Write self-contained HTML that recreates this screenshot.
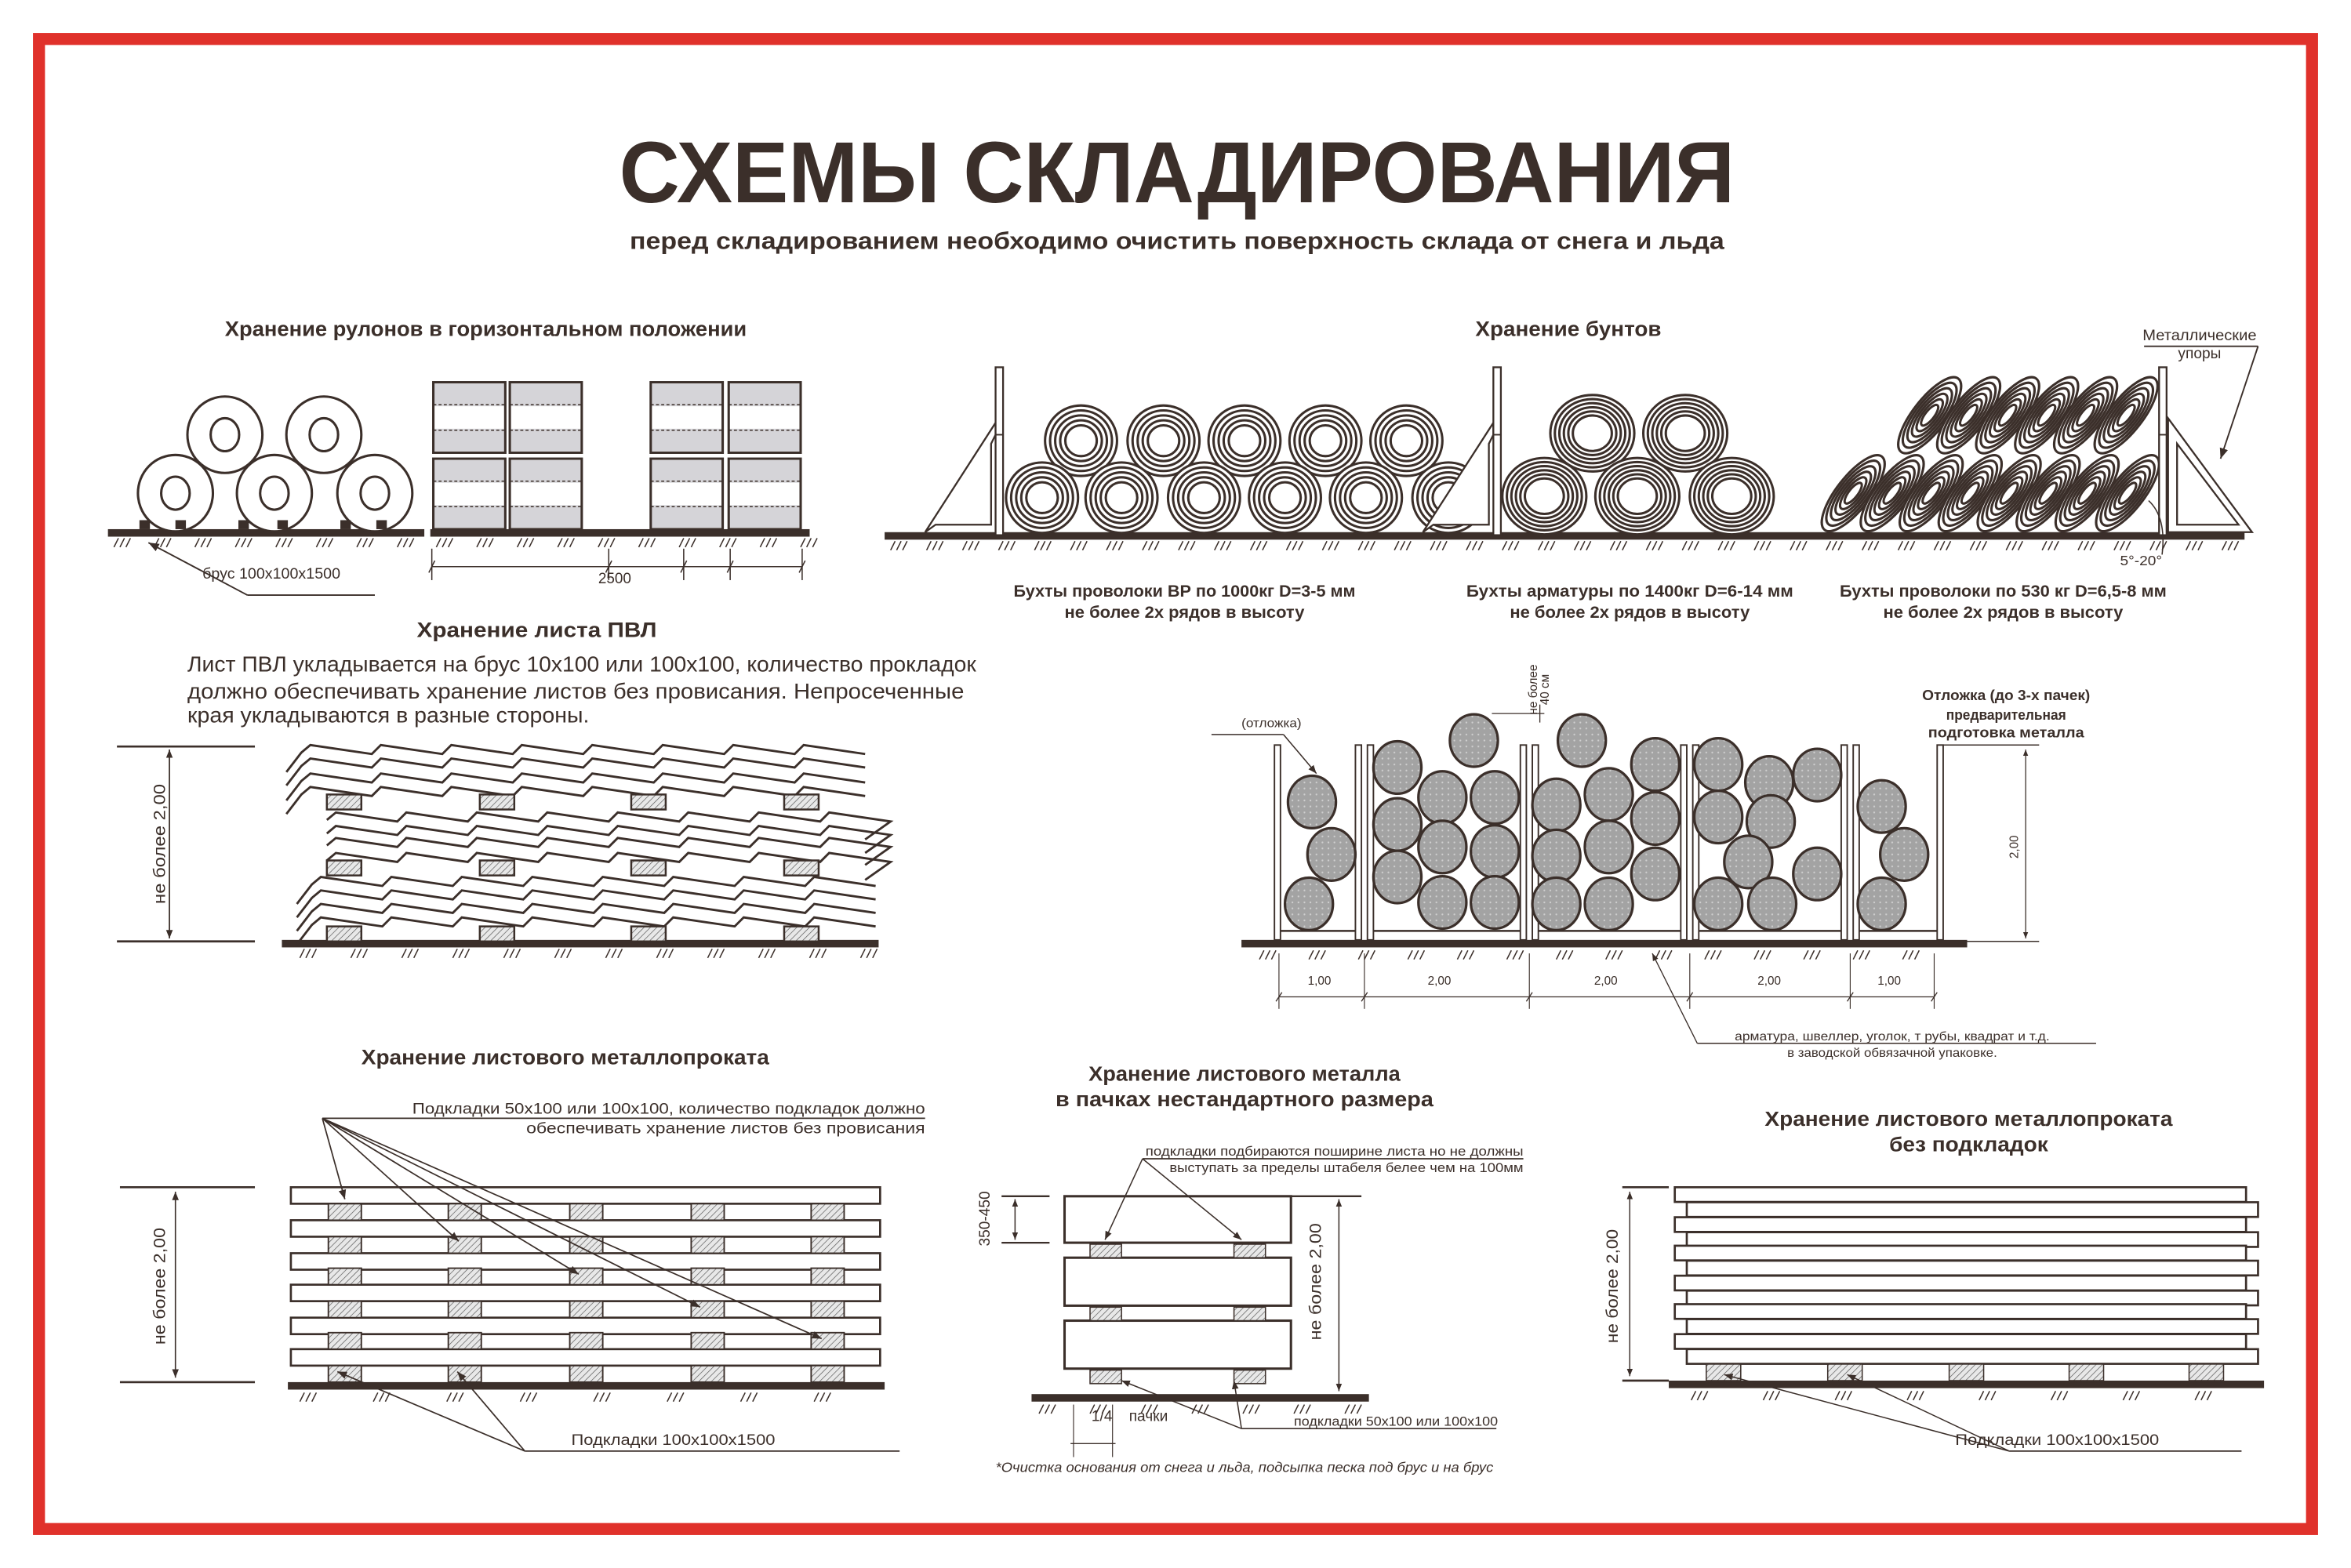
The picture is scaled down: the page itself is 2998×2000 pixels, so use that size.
<!DOCTYPE html>
<html><head><meta charset="utf-8">
<style>
html,body{margin:0;padding:0;background:#fff;}
svg{display:block;}
text{font-family:"Liberation Sans Narrow","Liberation Sans","DejaVu Sans",sans-serif;fill:#3b2f2a;}
.b{font-weight:bold;}
</style></head>
<body>
<svg id="s" width="2998" height="2000" viewBox="0 0 1568 1046" preserveAspectRatio="none" xmlns="http://www.w3.org/2000/svg">
<defs>
<pattern id="h" width="3" height="3" patternUnits="userSpaceOnUse" patternTransform="rotate(45)">
<rect width="3" height="3" fill="#e8e8e8"/><line x1="0" y1="0" x2="0" y2="3" stroke="#555" stroke-width="0.7"/></pattern>
<pattern id="g" width="4" height="4" patternUnits="userSpaceOnUse">
<rect width="4" height="4" fill="#a3a3a3"/><circle cx="2" cy="2" r="0.6" fill="#cfcfcf"/></pattern>
<marker id="ar" viewBox="0 0 10 10" refX="10" refY="5" markerWidth="7" markerHeight="7" orient="auto-start-reverse"><path d="M0,1 L10,5 L0,9 z" fill="#3b2f2a"/></marker>
</defs>
<rect x="0" y="0" width="1568" height="1046" fill="#fff"/>
<rect x="26" y="26" width="1516" height="994" fill="none" stroke="#e0312b" stroke-width="8"/>

<text x="785" y="135" class="b" font-size="58" text-anchor="middle" textLength="744" lengthAdjust="spacingAndGlyphs">СХЕМЫ СКЛАДИРОВАНИЯ</text>
<text x="785" y="166" class="b" font-size="16" text-anchor="middle" textLength="730" lengthAdjust="spacingAndGlyphs">перед складированием необходимо очистить поверхность склада от снега и льда</text>

<text x="324" y="224" class="b" font-size="14" text-anchor="middle" textLength="348" lengthAdjust="spacingAndGlyphs">Хранение рулонов в горизонтальном положении</text>
<text x="1046" y="224" class="b" font-size="14" text-anchor="middle" textLength="124" lengthAdjust="spacingAndGlyphs">Хранение бунтов</text>

<g id="draw" stroke="#3b2f2a" fill="none"></g>

<!-- rolls section text -->
<text x="135" y="386" font-size="10" textLength="92" lengthAdjust="spacingAndGlyphs">брус 100х100х1500</text>
<text x="399" y="389" font-size="10" textLength="22" lengthAdjust="spacingAndGlyphs">2500</text>

<text x="790" y="398" class="b" font-size="11" text-anchor="middle" textLength="228" lengthAdjust="spacingAndGlyphs">Бухты проволоки ВР по 1000кг D=3-5 мм</text>
<text x="790" y="412" class="b" font-size="11" text-anchor="middle" textLength="160" lengthAdjust="spacingAndGlyphs">не более 2х рядов в высоту</text>
<text x="1087" y="398" class="b" font-size="11" text-anchor="middle" textLength="218" lengthAdjust="spacingAndGlyphs">Бухты арматуры по 1400кг D=6-14 мм</text>
<text x="1087" y="412" class="b" font-size="11" text-anchor="middle" textLength="160" lengthAdjust="spacingAndGlyphs">не более 2х рядов в высоту</text>
<text x="1336" y="398" class="b" font-size="11" text-anchor="middle" textLength="218" lengthAdjust="spacingAndGlyphs">Бухты проволоки по 530 кг D=6,5-8 мм</text>
<text x="1336" y="412" class="b" font-size="11" text-anchor="middle" textLength="160" lengthAdjust="spacingAndGlyphs">не более 2х рядов в высоту</text>
<text x="1467" y="227" font-size="10" text-anchor="middle" textLength="76" lengthAdjust="spacingAndGlyphs">Металлические</text>
<text x="1467" y="239" font-size="10" text-anchor="middle">упоры</text>
<text x="1428" y="377" font-size="9" text-anchor="middle" textLength="28" lengthAdjust="spacingAndGlyphs">5°-20°</text>

<!-- PVL -->
<text x="358" y="425" class="b" font-size="14" text-anchor="middle" textLength="160" lengthAdjust="spacingAndGlyphs">Хранение листа ПВЛ</text>
<text x="125" y="448" font-size="14.5" textLength="526" lengthAdjust="spacingAndGlyphs">Лист ПВЛ укладывается на брус 10х100 или 100х100, количество прокладок</text>
<text x="125" y="466" font-size="14.5" textLength="518" lengthAdjust="spacingAndGlyphs">должно обеспечивать хранение листов без провисания. Непросеченные</text>
<text x="125" y="482" font-size="14.5" textLength="268" lengthAdjust="spacingAndGlyphs">края укладываются в разные стороны.</text>
<text transform="translate(110,563) rotate(-90)" font-size="11" text-anchor="middle" textLength="80" lengthAdjust="spacingAndGlyphs">не более 2,00</text>

<!-- pipes -->
<text x="828" y="485" font-size="8" textLength="40" lengthAdjust="spacingAndGlyphs">(отложка)</text>
<text transform="translate(1025,460) rotate(-90)" font-size="8" text-anchor="middle">не более</text>
<text transform="translate(1033,460) rotate(-90)" font-size="8" text-anchor="middle">40 см</text>
<text x="1338" y="467" class="b" font-size="9.5" text-anchor="middle" textLength="112" lengthAdjust="spacingAndGlyphs">Отложка (до 3-х пачек)</text>
<text x="1338" y="480" class="b" font-size="9.5" text-anchor="middle" textLength="80" lengthAdjust="spacingAndGlyphs">предварительная</text>
<text x="1338" y="492" class="b" font-size="9.5" text-anchor="middle" textLength="104" lengthAdjust="spacingAndGlyphs">подготовка металла</text>
<text transform="translate(1346,565) rotate(-90)" font-size="8" text-anchor="middle">2,00</text>
<text x="880" y="657" font-size="8" text-anchor="middle">1,00</text>
<text x="960" y="657" font-size="8" text-anchor="middle">2,00</text>
<text x="1071" y="657" font-size="8" text-anchor="middle">2,00</text>
<text x="1180" y="657" font-size="8" text-anchor="middle">2,00</text>
<text x="1260" y="657" font-size="8" text-anchor="middle">1,00</text>
<text x="1262" y="694" font-size="8" text-anchor="middle" textLength="210" lengthAdjust="spacingAndGlyphs">арматура, швеллер, уголок, т рубы, квадрат и т.д.</text>
<text x="1262" y="705" font-size="8" text-anchor="middle" textLength="140" lengthAdjust="spacingAndGlyphs">в заводской обвязачной упаковке.</text>

<!-- sheet metal -->
<text x="377" y="710" class="b" font-size="14" text-anchor="middle" textLength="272" lengthAdjust="spacingAndGlyphs">Хранение листового металлопроката</text>
<text x="617" y="743" font-size="10" text-anchor="end" textLength="342" lengthAdjust="spacingAndGlyphs">Подкладки 50х100 или 100х100, количество подкладок должно</text>
<text x="617" y="756" font-size="10" text-anchor="end" textLength="266" lengthAdjust="spacingAndGlyphs">обеспечивать хранение листов без провисания</text>
<text transform="translate(110,858) rotate(-90)" font-size="11" text-anchor="middle" textLength="78" lengthAdjust="spacingAndGlyphs">не более 2,00</text>
<text x="381" y="964" font-size="10" textLength="136" lengthAdjust="spacingAndGlyphs">Подкладки 100х100х1500</text>

<text x="830" y="721" class="b" font-size="13.5" text-anchor="middle" textLength="208" lengthAdjust="spacingAndGlyphs">Хранение листового металла</text>
<text x="830" y="738" class="b" font-size="13.5" text-anchor="middle" textLength="252" lengthAdjust="spacingAndGlyphs">в пачках нестандартного размера</text>
<text x="1016" y="771" font-size="8.5" text-anchor="end" textLength="252" lengthAdjust="spacingAndGlyphs">подкладки подбираются поширине листа но не должны</text>
<text x="1016" y="782" font-size="8.5" text-anchor="end" textLength="236" lengthAdjust="spacingAndGlyphs">выступать за пределы штабеля белее чем на 100мм</text>
<text transform="translate(660,813) rotate(-90)" font-size="10" text-anchor="middle">350-450</text>
<text transform="translate(881,855) rotate(-90)" font-size="11" text-anchor="middle" textLength="78" lengthAdjust="spacingAndGlyphs">не более 2,00</text>
<text x="728" y="948" font-size="10">1/4</text>
<text x="753" y="948" font-size="10">пачки</text>
<text x="863" y="951" font-size="8.5" textLength="136" lengthAdjust="spacingAndGlyphs">подкладки 50х100 или 100х100</text>
<text x="830" y="982" font-size="9" font-style="italic" text-anchor="middle" textLength="332" lengthAdjust="spacingAndGlyphs">*Очистка основания от снега и льда, подсыпка песка под брус и на брус</text>

<text x="1313" y="751" class="b" font-size="13.5" text-anchor="middle" textLength="272" lengthAdjust="spacingAndGlyphs">Хранение листового металлопроката</text>
<text x="1313" y="768" class="b" font-size="13.5" text-anchor="middle" textLength="106" lengthAdjust="spacingAndGlyphs">без подкладок</text>
<text transform="translate(1079,858) rotate(-90)" font-size="11" text-anchor="middle" textLength="76" lengthAdjust="spacingAndGlyphs">не более 2,00</text>
<text x="1304" y="964" font-size="10" textLength="136" lengthAdjust="spacingAndGlyphs">Подкладки 100х100х1500</text>
</svg>
<script>
(function(){
var C="#3b2f2a",G=document.getElementById("draw"),NS="http://www.w3.org/2000/svg",o="";
function L(a,b,c,d,w,m){o+='<line x1="'+a+'" y1="'+b+'" x2="'+c+'" y2="'+d+'" stroke-width="'+(w||0.8)+'"'+(m?' marker-end="url(#ar)"':'')+'/>';}
function R(x,y,w,h,f,sw){o+='<rect x="'+x+'" y="'+y+'" width="'+w+'" height="'+h+'" fill="'+(f||"none")+'" stroke-width="'+(sw==null?1:sw)+'"/>';}
function bar(x1,x2,y){o+='<rect x="'+x1+'" y="'+y+'" width="'+(x2-x1)+'" height="5" fill="'+C+'" stroke="none"/>';}
function hatch(x1,x2,y,step){for(var x=x1;x<=x2;x+=step){for(var k=0;k<3;k++){L(x+k*4,y+6,x+k*4+3,y);}}}
// ---- rolls
bar(72,283,353);hatch(76,280,359,27);
[[117,329],[183,329],[250,329],[150,290],[216,290]].forEach(function(p){
o+='<ellipse cx="'+p[0]+'" cy="'+p[1]+'" rx="25" ry="25.5" fill="#fff" stroke-width="1.6"/>';
o+='<ellipse cx="'+p[0]+'" cy="'+p[1]+'" rx="9.5" ry="11" fill="none" stroke-width="1.6"/>';});
[96,120,162,188,230,254].forEach(function(x){R(x-3,347,7,6,C,0);});
L(165,397,250,397,1);L(165,397,99,362,1,1);
// boxes
bar(287,540,353);hatch(291,535,359,27);
[289,340,434,486].forEach(function(x){[255,306].forEach(function(y){
R(x,y+1,48,15,"#d5d4d8",0);R(x,y+31,48,15,"#d5d4d8",0);R(x,y,48,47,"none",1.6);
o+='<line x1="'+x+'" y1="'+(y+15)+'" x2="'+(x+48)+'" y2="'+(y+15)+'" stroke-width="0.8" stroke-dasharray="2,1.5"/>';
o+='<line x1="'+x+'" y1="'+(y+32)+'" x2="'+(x+48)+'" y2="'+(y+32)+'" stroke-width="0.8" stroke-dasharray="2,1.5"/>';});});
L(288,378,535,378,0.8);[288,406,456,487,535].forEach(function(x){L(x,366,x,387,0.8);L(x-2,382,x+2,374,0.8);});
// ---- coils
bar(590,1497,355);hatch(594,1495,361,24);
function coil(cx,cy,rx,ry,n,hole,rot){var s='';for(var i=0;i<n;i++){var f=i/(n-1);var a=rx-(rx-hole)*f,b=ry-(ry-hole*ry/rx)*f;
s+='<ellipse cx="'+cx+'" cy="'+cy+'" rx="'+a.toFixed(2)+'" ry="'+b.toFixed(2)+'" fill="'+(i==0?"#fff":"none")+'" stroke-width="1.6"'+(rot?' transform="rotate('+rot+' '+cx+' '+cy+')"':'')+'/>';}o+=s;}
[721,776,830,884,938].forEach(function(x){coil(x,294,24,23.5,5,10.5);});
[695,748,803,857,911,966].forEach(function(x){coil(x,332,24,23.5,5,10.5);});
[1062,1124].forEach(function(x){coil(x,289,28,25.5,6,13);});
[1030,1092,1155].forEach(function(x){coil(x,331,28,25.5,6,13);});
[1287,1313,1339,1365,1391,1418].forEach(function(x){coil(x,277,11,31,6,3,38);});
[1236,1262,1288,1314,1340,1366,1392,1419].forEach(function(x){coil(x,329,11,31,6,3,38);});
function post(x,top){R(x,top,5,112,"#fff",1.2);L(x,290,x+5,290,1);}
function triL(px){o+='<path d="M'+(px-47)+',355 L'+px+',282 L'+px+',290 L'+(px-3)+',296 L'+(px-3)+',350 L'+(px-40)+',350 Z" fill="#fff" stroke-width="1.2"/>';}
triL(664);post(664,245);triL(996);post(996,245);
o+='<path d="M1446,279 L1502,355 L1446,355 Z" fill="#fff" stroke-width="1.2"/><path d="M1452,296 L1493,350 L1452,350 Z" fill="none" stroke-width="1.2"/>';
post(1440,245);
L(1430,231,1506,231,1);L(1506,231,1481,306,1,1);
o+='<path d="M1433,334 Q1445,345 1442,370" stroke-width="0.8" fill="none"/>';
// ---- PVL
L(78,498,170,498,1.4);L(78,628,170,628,1.4);L(113,500,113,626,0.8,1);L(113,626,113,500,0.8,1);
bar(188,586,627);hatch(200,586,633,34);
function zig(y,x1,x2,tail){var p='M'+x1+','+(y+5);for(var x=x1;x<x2-6;x+=47){p+=' L'+(x+6)+','+(y)+' L'+(x+47)+','+(y+6);}
if(tail<0)p='M'+(x1-10)+','+(y+18)+' L'+x1+','+(y+5)+p.slice(p.indexOf(' '));
if(tail>0)p+=' L'+(x2+12)+','+(y+18);
o+='<path d="'+p+'" stroke-width="1.5" fill="none"/>';}
[497,506,516,525].forEach(function(y){zig(y,201,565,-1);});
[542,551,559,569].forEach(function(y){zig(y,218,565,1);});
[585,594,603,612].forEach(function(y){zig(y,208,565,-1);});
[218,320,421,523].forEach(function(x){[530,574,618].forEach(function(y){R(x,y,23,10,"url(#h)",1.3);});});
// ---- pipes
bar(828,1312,627);hatch(840,1290,634,33);
[[850,908],[912,1018],[1022,1125],[1129,1232],[1236,1296]].forEach(function(c,i){
R(c[0],497,4,130,"#fff",1);R(c[1]-4,497,4,130,"#fff",1);L(c[0]+4,621,c[1]-4,621,1.3);});
var P=[[875,535],[888,570],[873,603],[932,512],[962,532],[997,532],[932,550],[962,565],[997,568],[932,585],[962,602],[997,602],[983,494],
[1038,537],[1073,530],[1104,510],[1038,571],[1073,565],[1104,546],[1038,603],[1073,603],[1104,583],[1055,494],
[1146,510],[1180,522],[1212,517],[1146,545],[1181,548],[1166,575],[1212,583],[1146,603],[1182,603],
[1255,538],[1270,570],[1255,603]];
P.forEach(function(p){o+='<ellipse cx="'+p[0]+'" cy="'+p[1]+'" rx="16" ry="17.5" fill="url(#g)" stroke-width="1.7"/>';});
L(995,476,1030,476,0.7);L(1027,470,1027,482,0.7);
L(808,490,856,490,0.8);L(856,490,878,516,0.8,1);
L(1296,497,1360,497,0.8);L(1312,628,1360,628,0.8);L(1351,500,1351,626,0.6,1);L(1351,626,1351,500,0.6,1);
L(853,665,1290,665,0.7);[853,910,1020,1127,1234,1290].forEach(function(x){L(x,636,x,673,0.6);L(x-2,668,x+2,662,0.7);});
L(1132,696,1398,696,0.8);L(1132,696,1102,636,0.7,1);
// ---- sheet metal with pads
L(80,792,170,792,1.4);L(80,922,170,922,1.4);L(117,795,117,919,0.8,1);L(117,919,117,795,0.8,1);
bar(192,590,922);hatch(200,585,929,49);
[792,814,836,857,879,900].forEach(function(y){R(194,y,393,11,"#fff",1.4);});
[219,299,380,461,541].forEach(function(x){[803,825,846,868,889,911].forEach(function(y){R(x,y,22,y==911?11:11,"url(#h)",1);});});
L(215,746,617,746,0.9);
[[230,800],[306,828],[386,850],[467,872],[548,893]].forEach(function(p){L(215,746,p[0],p[1],0.9,1);});
L(350,968,600,968,0.9);L(350,968,225,915,0.9,1);L(350,968,305,915,0.9,1);
// ---- bundles
bar(688,913,930);hatch(693,900,937,34);
[[798,829],[839,871],[881,913]].forEach(function(r){R(710,r[0],151,r[1]-r[0],"#fff",1.6);});
[727,823].forEach(function(x){[829,871,913].forEach(function(y){R(x,y+1,21,9,"url(#h)",0.8);});});
L(762,773,1016,773,0.9);L(762,773,737,827,0.8,1);L(762,773,828,827,0.8,1);
L(668,798,700,798,1.2);L(668,829,700,829,1.2);L(677,800,677,827,0.7,1);L(677,827,677,800,0.7,1);
L(861,798,908,798,1.2);L(893,800,893,928,0.7,1);L(893,928,893,800,0.7,1);
L(716,937,716,972,0.6);L(742,937,742,972,0.6);L(714,963,744,963,0.7);
L(828,953,998,953,0.9);L(828,953,748,921,0.8,1);L(828,953,823,921,0.8,1);
// ---- sheets no pads
L(1082,792,1113,792,1.4);L(1082,921,1113,921,1.4);L(1087,795,1087,918,0.7,1);L(1087,918,1087,795,0.7,1);
bar(1113,1510,921);hatch(1128,1500,928,48);
var ys=[792,802,812,822,831,841,851,861,870,880,890,900];
ys.forEach(function(y,i){var off=i%2?8:0;R(1117+off,y,381,9.8,"#fff",1.4);});
[1138,1219,1300,1380,1460].forEach(function(x){R(x,910,23,11,"url(#h)",0.8);});
L(1340,968,1495,968,0.9);L(1340,968,1150,917,0.8,1);L(1340,968,1232,917,0.8,1);
G.innerHTML=o;
})();
</script>
</body></html>
